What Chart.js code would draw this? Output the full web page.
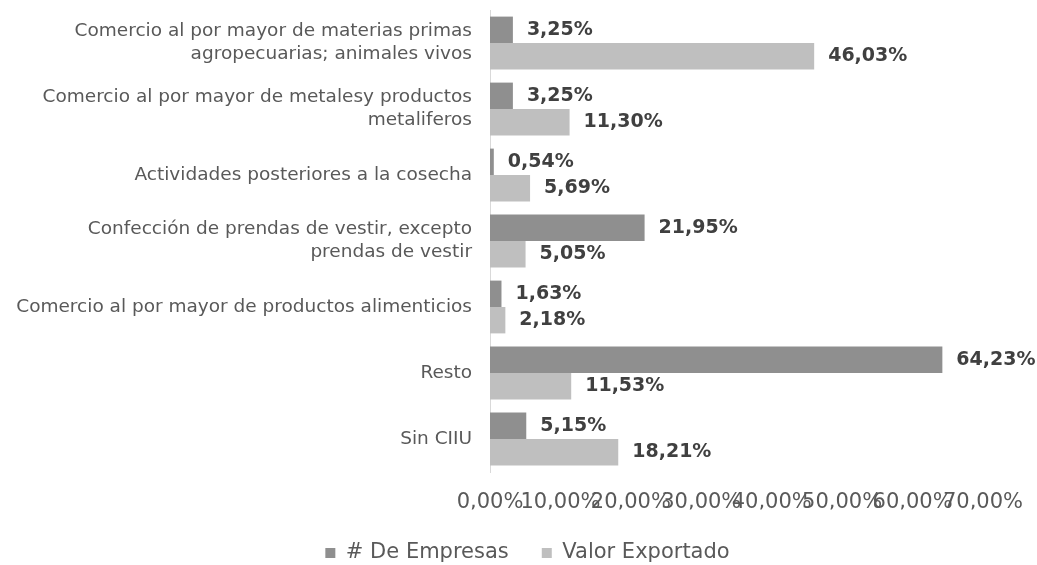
<!DOCTYPE html>
<html>
<head>
<meta charset="utf-8">
<script src="https://cdn.jsdelivr.net/npm/chart.js@4.4.1/dist/chart.umd.min.js"></script>
<style>
  html, body { margin: 0; padding: 0; background: #ffffff; }
  #wrap { width: 1037px; height: 565px; position: relative; }
</style>
</head>
<body>
<div id="wrap"><canvas id="c" width="1037" height="565"></canvas></div>
<script>
const categories = [
  ["Comercio al por mayor de materias primas", "agropecuarias; animales vivos"],
  ["Comercio al por mayor de metalesy productos", "metaliferos"],
  "Actividades posteriores a la cosecha",
  ["Confección de prendas de vestir, excepto", "prendas de vestir"],
  "Comercio al por mayor de productos alimenticios",
  "Resto",
  "Sin CIIU"
];
const seriesNames = ["# De Empresas", "Valor Exportado"];
const empresas = [3.25, 3.25, 0.54, 21.95, 1.63, 64.23, 5.15];
const valorExportado = [46.03, 11.30, 5.69, 5.05, 2.18, 11.53, 18.21];
const xTickValues = [0, 10, 20, 30, 40, 50, 60, 70];

const FONT = "'DejaVu Sans', sans-serif";
const fmt = v => v.toFixed(2).replace('.', ',') + '%';

const valueLabels = {
  id: 'valueLabels',
  afterDatasetsDraw(chart) {
    const ctx = chart.ctx;
    ctx.save();
    ctx.font = "bold 19px " + FONT;
    ctx.fillStyle = '#404040';
    ctx.textAlign = 'left';
    ctx.textBaseline = 'middle';
    chart.data.datasets.forEach((ds, di) => {
      const meta = chart.getDatasetMeta(di);
      meta.data.forEach((bar, i) => {
        ctx.fillText(fmt(ds.data[i]), bar.x + 14, bar.y);
      });
    });
    ctx.restore();
  }
};

// shift the legend block so it is centred like the reference
const legendShift = {
  id: 'legendShift',
  afterLayout(chart) {
    if (chart.legend) { chart.legend.left = 72; }
  }
};

new Chart(document.getElementById('c'), {
  type: 'bar',
  data: {
    labels: categories,
    datasets: [
      { label: seriesNames[0], data: empresas, backgroundColor: '#8f8f8f', borderWidth: 0,
        categoryPercentage: 0.8, barPercentage: 1.0 },
      { label: seriesNames[1], data: valorExportado, backgroundColor: '#bfbfbf', borderWidth: 0,
        categoryPercentage: 0.8, barPercentage: 1.0 }
    ]
  },
  options: {
    indexAxis: 'y',
    responsive: false,
    animation: false,
    layout: { padding: { left: 0, right: 54, top: 10, bottom: -8.5 } },
    scales: {
      x: {
        min: 0, max: 70,
        afterBuildTicks(scale) { scale.ticks = xTickValues.map(v => ({ value: v })); },
        afterFit(scale) { scale.height = 37.5; scale.paddingLeft = 0; scale.paddingRight = 0; },
        grid: { display: false, drawTicks: false },
        border: { display: false },
        ticks: {
          autoSkip: false, maxRotation: 0, minRotation: 0,
          padding: 18,
          color: '#595959',
          font: { family: FONT, size: 21 },
          callback: v => fmt(v)
        }
      },
      y: {
        grid: { display: false, drawTicks: false },
        border: { display: true, color: '#d9d9d9', width: 1 },
        afterFit(scale) { scale.width = 490; scale.paddingTop = 0; scale.paddingBottom = 0; },
        ticks: {
          padding: 18,
          color: '#595959',
          font: { family: FONT, size: 18.5, lineHeight: 1.25 }
        }
      }
    },
    plugins: {
      legend: {
        position: 'bottom',
        labels: {
          boxWidth: 10, boxHeight: 10,
          padding: 33,
          color: '#595959',
          font: { family: FONT, size: 21 }
        }
      },
      tooltip: { enabled: false }
    }
  },
  plugins: [valueLabels, legendShift]
});
</script>
</body>
</html>
